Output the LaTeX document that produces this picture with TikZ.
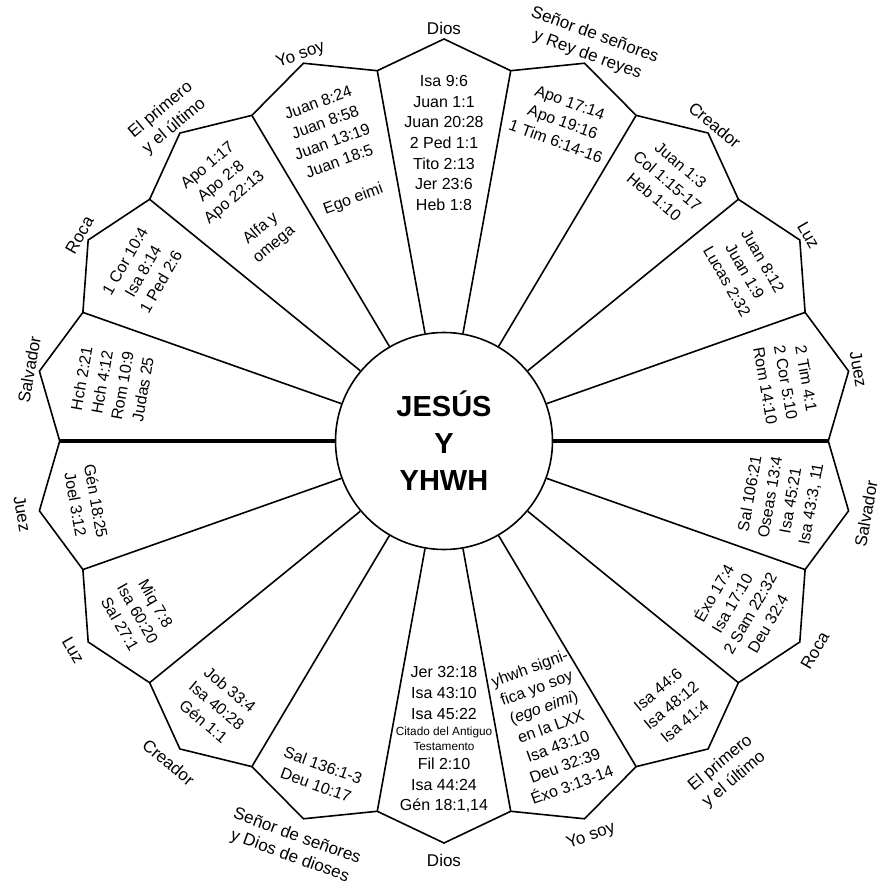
\documentclass[tikz,border=0pt]{standalone}
\usepackage{fontspec}
\setmainfont{Liberation Sans}
\usepackage{tikz}

\tikzset{
  rim/.style={line width=1.6pt, line join=miter},
  refs/.style={font=\fontsize{16}{20.7}\selectfont, align=center, inner sep=0pt},
  rimlabel/.style={font=\fontsize{17}{21}\selectfont, align=center, inner sep=0pt, text depth=0pt},
}
\newcommand{\smallline}[1]{{\fontsize{11.8}{15}\selectfont #1}}

\begin{document}
\begin{tikzpicture}[x=1.022pt, y=1pt]
\useasboundingbox (-444pt,-447pt) rectangle (440pt,441pt);

\node[circle, draw, line width=1.6pt, minimum size=217pt, inner sep=0pt,
  font=\fontsize{29}{37}\selectfont\bfseries, align=center] (jesus) at (0,0) {JESÚS\\Y\\YHWH};

% rim corners and tips
\foreach \k in {0,...,17} {
  \coordinate (v\k) at ({\k*20}:376);
  \coordinate (p\k) at ({\k*20+10}:402);
}
\draw[rim] (v0) \foreach \k [count=\n from 1] in {0,...,16} {-- (p\k) -- (v\n)} -- (p17) -- cycle;

\foreach \k [evaluate=\k as \a using int(\k*20)] in {1,...,8,10,11,...,17}
  \draw[rim] (jesus.\a) -- (v\k);
\draw[line width=3.6pt] (jesus.east) -- (v0) (jesus.west) -- (v9);

% upper half
\foreach \a/\lab/\txt in {
  10/{Juez}/{2 Tim 4:1\\2 Cor 5:10\\Rom 14:10},
  30/{Luz}/{Juan 8:12\\Juan 1:9\\Lucas 2:32},
  50/{Creador}/{Juan 1:3\\Col 1:15-17\\Heb 1:10},
  70/{Señor de señores\\y Rey de reyes}/{Apo 17:14\\Apo 19:16\\1 Tim 6:14-16},
  90/{Dios}/{Isa 9:6\\Juan 1:1\\Juan 20:28\\2 Ped 1:1\\Tito 2:13\\Jer 23:6\\Heb 1:8},
  110/{Yo soy}/{Juan 8:24\\Juan 8:58\\Juan 13:19\\Juan 18:5\\[19pt]Ego eimi},
  130/{El primero\\y el último}/{Apo 1:17\\Apo 2:8\\Apo 22:13\\[20pt]Alfa y\\omega},
  150/{Roca}/{1 Cor 10:4\\Isa 8:14\\1 Ped 2:6},
  170/{Salvador}/{Hch 2:21\\Hch 4:12\\Rom 10:9\\Judas 25}} {
  \node[refs, anchor=north, rotate=\a-90] (ref\a) at (\a:366) {\txt};
  \node[rimlabel, anchor=south, rotate=\a-90] (lab\a) at (\a:406) {\lab};
}

% lower half
\foreach \a/\lab/\txt in {
  190/{Juez}/{Gén 18:25\\Joel 3:12},
  210/{Luz}/{Miq 7:8\\Isa 60:20\\Sal 27:1},
  230/{Creador}/{Job 33:4\\Isa 40:28\\Gén 1:1},
  250/{Señor de señores\\y Dios de dioses}/{Sal 136:1-3\\Deu 10:17},
  270/{Dios}/{Jer 32:18\\Isa 43:10\\Isa 45:22\\[-4.7pt]\smallline{Citado del Antiguo}\\[-5.7pt]\smallline{Testamento}\\[-1.7pt]Fil 2:10\\Isa 44:24\\Gén 18:1,14},
  290/{Yo soy}/{yhwh signi-\\fica yo soy\\(\textit{ego eimi})\\en la LXX\\Isa 43:10\\Deu 32:39\\Éxo 3:13-14},
  310/{El primero\\y el último}/{Isa 44:6\\Isa 48:12\\Isa 41:4},
  330/{Roca}/{Éxo 17:4\\Isa 17:10\\2 Sam 22:32\\Deu 32:4},
  350/{Salvador}/{Sal 106:21\\Oseas 13:4\\Isa 45:21\\Isa 43:3, 11}} {
  \node[refs, anchor=south, rotate=\a+90] (ref\a) at (\a:372) {\txt};
  \node[rimlabel, anchor=north, rotate=\a+90] (lab\a) at (\a:413) {\lab};
}
\end{tikzpicture}
\end{document}
